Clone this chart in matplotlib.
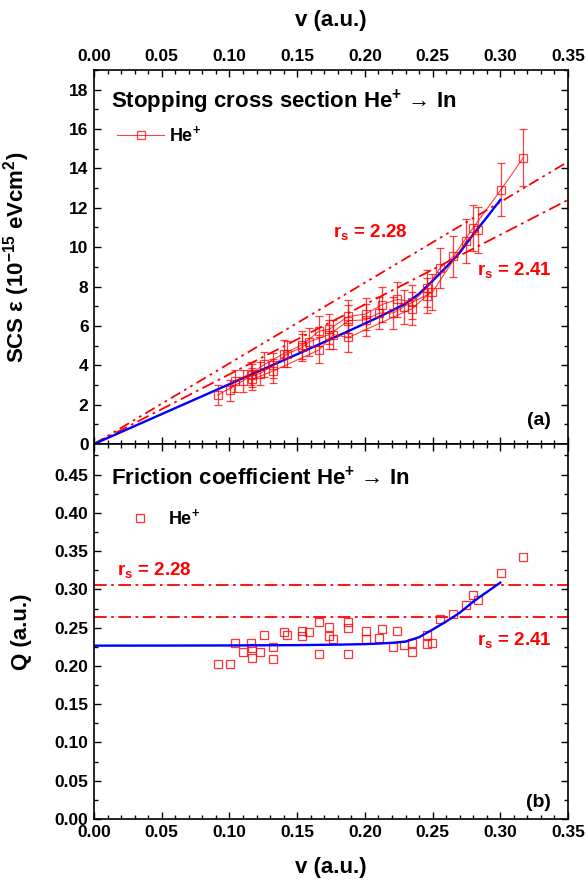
import matplotlib
matplotlib.use("Agg")
import matplotlib.pyplot as plt
from matplotlib.ticker import MultipleLocator

plt.rcParams['font.family'] = ['Liberation Sans', 'DejaVu Sans']
plt.rcParams['font.weight'] = 'bold'
plt.rcParams['mathtext.fontset'] = 'custom'
plt.rcParams['mathtext.rm'] = 'Liberation Sans:bold'
plt.rcParams['mathtext.it'] = 'Liberation Sans:bold'
plt.rcParams['mathtext.bf'] = 'Liberation Sans:bold'
plt.rcParams['mathtext.default'] = 'rm'

RED = '#ff0000'
BLUE = '#0000ff'

# measured He+ data, split into the overlapping runs drawn in panel (a)
v_a = [0.1004, 0.104, 0.1157, 0.1258, 0.140, 0.1536, 0.1661, 0.1737, 0.1878, 0.2006,
       0.2127, 0.224, 0.235, 0.2457, 0.2557, 0.2653, 0.2798, 0.3005, 0.317]
s_a = [2.72, 3.20, 3.56, 4.04, 4.59, 5.04, 5.73, 5.83, 6.48, 6.60,
       7.08, 7.35, 7.22, 7.91, 8.96, 9.53, 10.97, 12.92, 14.55]
e_a = [0.52, 0.56, 0.58, 0.62, 0.67, 0.70, 0.76, 0.77, 0.82, 0.83,
       0.87, 0.89, 0.88, 0.93, 1.02, 1.06, 1.18, 1.33, 1.46]
q_a = [0.2025, 0.2296, 0.2296, 0.240, 0.2448, 0.2452, 0.2578, 0.2505, 0.2578, 0.2457,
       0.2487, 0.2452, 0.2296, 0.2404, 0.2617, 0.2683, 0.2927, 0.321, 0.3428]

v_b = [0.0913, 0.110, 0.1164, 0.1226, 0.1324, 0.1423, 0.1536, 0.1585, 0.1737, 0.1878,
       0.2006, 0.2104, 0.221, 0.2289, 0.2498, 0.2747, 0.2838]
s_b = [2.48, 3.21, 3.48, 3.58, 3.99, 4.57, 4.91, 5.18, 5.56, 6.26,
       6.31, 6.65, 6.66, 6.98, 7.71, 10.30, 10.86]
e_b = [0.50, 0.56, 0.58, 0.59, 0.62, 0.67, 0.69, 0.71, 0.74, 0.80,
       0.80, 0.83, 0.83, 0.86, 0.92, 1.12, 1.17]
q_b = [0.203, 0.218, 0.223, 0.218, 0.2248, 0.240, 0.2387, 0.2443, 0.239, 0.249,
       0.2348, 0.236, 0.2252, 0.2278, 0.2304, 0.280, 0.2857]

v_c = [0.1167, 0.1324, 0.1661, 0.1767, 0.1878, 0.235, 0.2457]
s_c = [3.28, 3.71, 4.78, 5.56, 5.41, 6.88, 7.53]
e_c = [0.56, 0.60, 0.68, 0.74, 0.73, 0.85, 0.90]
q_c = [0.210, 0.2095, 0.215, 0.2348, 0.215, 0.2187, 0.229]

# theory curve (blue)
v_th = [0, 0.05, 0.10, 0.15, 0.18, 0.20, 0.21, 0.22, 0.23, 0.24, 0.25, 0.26, 0.27, 0.28, 0.29, 0.30]
s_th = [0, 1.52, 3.04, 4.56, 5.49, 6.12, 6.44, 6.78, 7.13, 7.63, 8.29, 8.98, 9.72, 10.65, 11.51, 12.40]
q_th = [0.2265, 0.2266, 0.2268, 0.2272, 0.2278, 0.2285, 0.2292, 0.2302, 0.2318, 0.2375,
        0.2475, 0.258, 0.2695, 0.284, 0.2965, 0.3088]

# free electron gas results for two rs values
v_feg = [0, 0.35]
s_228 = [0, 14.34]
s_241 = [0, 12.40]
q_228 = 0.306
q_241 = 0.264

fig = plt.figure(figsize=(5.88, 8.86), dpi=100)
ax1 = fig.add_axes([0.160, 0.4989, 0.806, 0.4221])
ax2 = fig.add_axes([0.160, 0.0756, 0.806, 0.4233])

for ax in (ax1, ax2):
    ax.set_xlim(0, 0.35)
    ax.xaxis.set_major_locator(MultipleLocator(0.05))
    ax.xaxis.set_minor_locator(MultipleLocator(0.01))
    ax.tick_params(which='both', direction='in', top=True, right=True, width=1.0,
                   labelsize=12.5, pad=4)
    ax.tick_params(which='major', length=5)
    ax.tick_params(which='minor', length=3)
    for sp in ax.spines.values():
        sp.set_linewidth(1.2)
    ax.xaxis.set_major_formatter(plt.FuncFormatter(lambda x, p: f"{x:.2f}"))
    ax.yaxis.set_label_coords(-0.131, 0.5)

# ---- panel (a)
ax1.set_ylim(0, 19)
ax1.yaxis.set_major_locator(MultipleLocator(2))
ax1.yaxis.set_minor_locator(MultipleLocator(1))
ax1.tick_params(labeltop=True, labelbottom=False)
ax1.xaxis.set_label_position('top')
ax1.set_xlabel('v (a.u.)', fontsize=16, fontweight='bold')
ax1.xaxis.set_label_coords(0.5, 1.118)
ax1.set_ylabel(r'SCS $\varepsilon$ (10$^{-15}$ eVcm$^{2}$)', fontsize=16, fontweight='bold')

ax1.plot(v_feg, s_228, color=RED, lw=1.3, dashes=[6, 2.5, 1.5, 2.5, 1.5, 2.5])
ax1.plot(v_feg, s_241, color=RED, lw=1.3, dashes=[7, 2.5, 1.5, 2.5])

first = True
for v, s, e in ((v_a, s_a, e_a), (v_b, s_b, e_b), (v_c, s_c, e_c)):
    ax1.errorbar(v, s, yerr=e, color=RED, lw=0.8, elinewidth=0.9, capsize=3, capthick=0.9,
                 marker='s', ms=6, mfc='none', mec=RED, mew=0.9, alpha=0.75,
                 label='He$^{+}$' if first else None)
    first = False
ax1.plot(v_th, s_th, color=BLUE, lw=1.7)

ax1.text(0.036, 0.898, 'Stopping cross section He$^{+}$ → In', transform=ax1.transAxes,
         fontsize=16, fontweight='bold', va='baseline', ha='left')
ax1.text(0.1765, 10.53, r'r$_{s}$ = 2.28', color=RED, fontsize=13.5, fontweight='bold',
         va='baseline', ha='left')
ax1.text(0.2826, 8.59, r'r$_{s}$ = 2.41', color=RED, fontsize=13.5, fontweight='bold',
         va='baseline', ha='left')
ax1.text(0.964, 0.064, '(a)', transform=ax1.transAxes, fontsize=14, fontweight='bold',
         ha='right', va='center')
h, l = ax1.get_legend_handles_labels()
ax1.legend([h[0][0]], l[:1], loc='center left', bbox_to_anchor=(0.0485, 0.826), frameon=False,
           fontsize=13, handlelength=2.6, handletextpad=0.3, borderaxespad=0, borderpad=0)

# ---- panel (b)
ax2.set_ylim(0, 0.49)
ax2.yaxis.set_major_locator(MultipleLocator(0.05))
ax2.yaxis.set_minor_locator(MultipleLocator(0.025))
ax2.yaxis.set_major_formatter(plt.FuncFormatter(lambda y, p: f"{y:.2f}"))
ax2.set_xlabel('v (a.u.)', fontsize=16, fontweight='bold')
ax2.xaxis.set_label_coords(0.5, -0.101)
ax2.set_ylabel('Q (a.u.)', fontsize=16, fontweight='bold')

ax2.axhline(q_228, color=RED, lw=1.3, dashes=[7, 2.5, 1.5, 2.5])
ax2.axhline(q_241, color=RED, lw=1.3, dashes=[7, 2.5, 1.5, 2.5])
ax2.plot(v_a + v_b + v_c, q_a + q_b + q_c, ls='none', marker='s', ms=6, mfc='none',
         mec=RED, mew=0.9, alpha=0.8, label='He$^{+}$')
ax2.plot(v_th, q_th, color=BLUE, lw=1.7)

ax2.text(0.036, 0.891, 'Friction coefficient He$^{+}$ → In', transform=ax2.transAxes,
         fontsize=16, fontweight='bold', va='baseline', ha='left')
ax2.text(0.0167, 0.3188, r'r$_{s}$ = 2.28', color=RED, fontsize=13.5, fontweight='bold',
         va='baseline', ha='left')
ax2.text(0.2826, 0.2274, r'r$_{s}$ = 2.41', color=RED, fontsize=13.5, fontweight='bold',
         va='baseline', ha='left')
ax2.text(0.964, 0.045, '(b)', transform=ax2.transAxes, fontsize=14, fontweight='bold',
         ha='right', va='center')
ax2.legend(loc='center left', bbox_to_anchor=(0.078, 0.803), frameon=False,
           fontsize=13, handlelength=1.0, handletextpad=1.05, borderaxespad=0, borderpad=0)

fig.savefig('out.png', dpi=100)
